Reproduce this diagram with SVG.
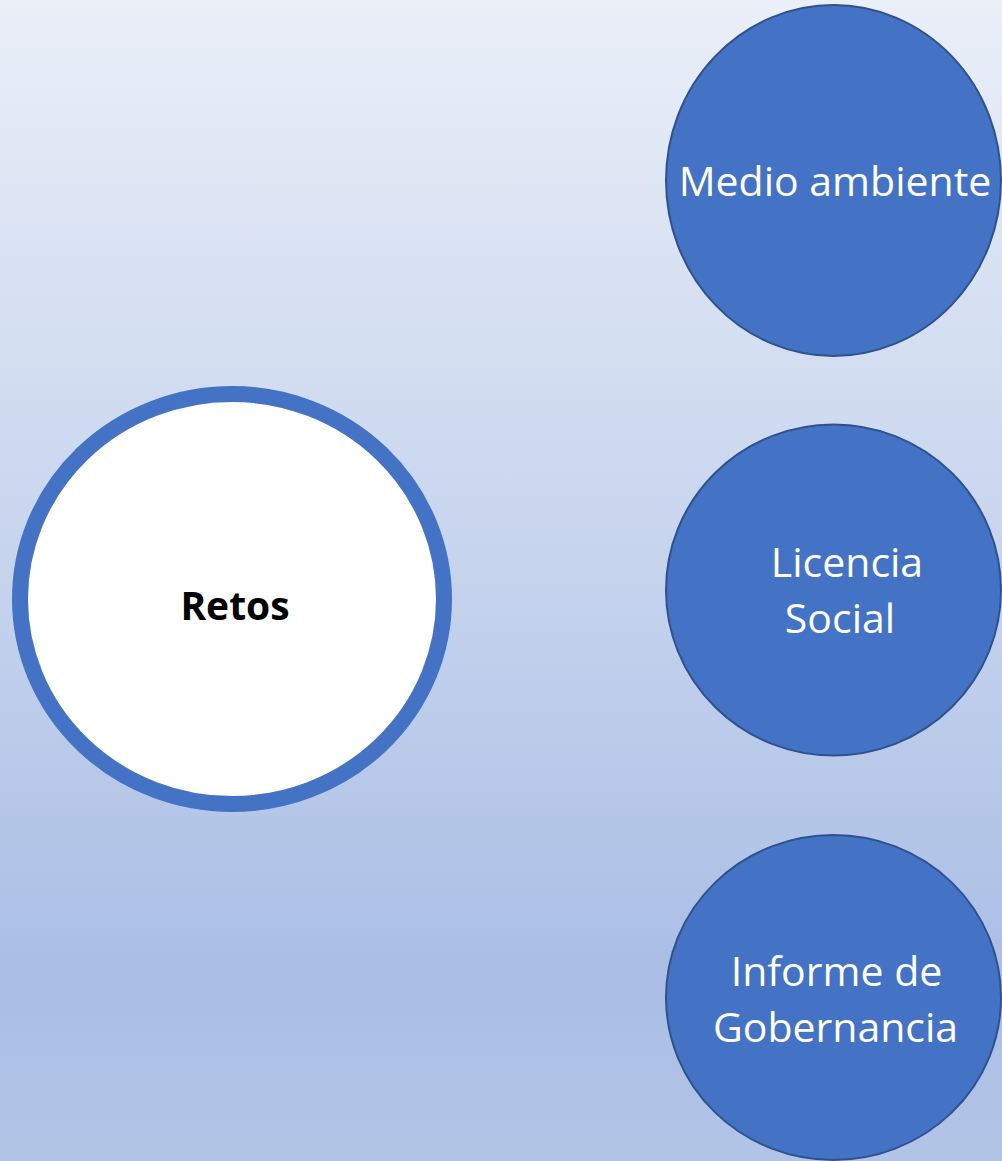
<svg xmlns="http://www.w3.org/2000/svg" width="1002" height="1161" viewBox="0 0 1002 1161">
<defs>
<linearGradient id="bg" x1="0" y1="0" x2="0" y2="1">
<stop offset="0" stop-color="#eaeff8"/>
<stop offset="0.5" stop-color="#c5d3ed"/>
<stop offset="0.84" stop-color="#aabee5"/>
<stop offset="1" stop-color="#b2c4e6"/>
</linearGradient>
<style>
.sat{fill:#4472c4;stroke:#2f528f;stroke-width:2}
.st{font-family:"Open Sans","Liberation Sans",sans-serif;font-size:41px;fill:#ffffff;text-anchor:middle}
.ct{font-family:"Open Sans","Liberation Sans",sans-serif;font-size:39px;font-weight:bold;fill:#000000;text-anchor:middle}
</style>
</defs>
<rect x="0" y="0" width="1002" height="1161" fill="url(#bg)"/>
<g id="connectors"></g>
<g id="retos">
<ellipse cx="232" cy="599" rx="212" ry="205" fill="#ffffff" stroke="#4472c4" stroke-width="16"/>
<text class="ct" x="235" y="620">Retos</text>
</g>
<g id="medio-ambiente">
<ellipse class="sat" cx="833.5" cy="180.5" rx="167.5" ry="175.5"/>
<text class="st" x="835" y="196">Medio ambiente</text>
</g>
<g id="licencia-social">
<ellipse class="sat" cx="833.5" cy="590" rx="167.5" ry="165.5"/>
<text class="st" x="847" y="577">Licencia</text>
<text class="st" x="840" y="633">Social</text>
</g>
<g id="informe-gobernancia">
<ellipse class="sat" cx="833.5" cy="997.5" rx="167.5" ry="162.5"/>
<text class="st" x="836.5" y="986">Informe de</text>
<text class="st" x="835.5" y="1042">Gobernancia</text>
</g>
</svg>
